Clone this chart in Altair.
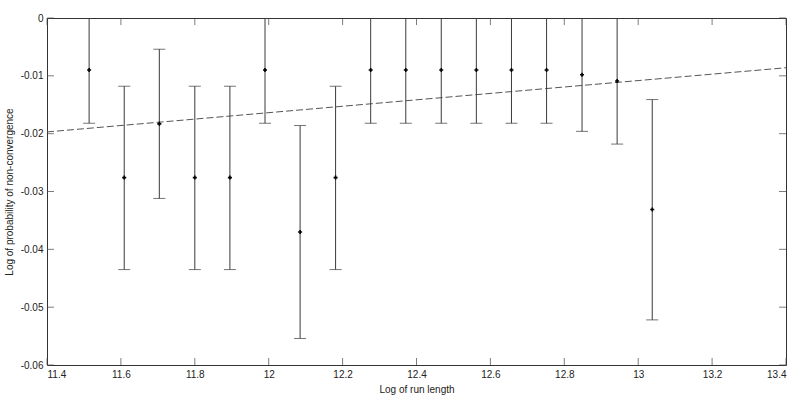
import altair as alt
import pandas as pd

# Log of run length (x positions of measurements)
run_len = [11.514, 11.609, 11.704, 11.800, 11.895, 11.990, 12.085, 12.181, 12.276,
           12.371, 12.467, 12.562, 12.657, 12.752, 12.848, 12.943, 13.038]
# Log of probability of non-convergence (centre estimates)
centre = [-0.0090, -0.0276, -0.0183, -0.0276, -0.0276, -0.0090, -0.0370, -0.0276, -0.0090,
          -0.0090, -0.0090, -0.0090, -0.0090, -0.0090, -0.0098, -0.0109, -0.0331]
lower = [-0.0182, -0.0435, -0.0312, -0.0435, -0.0435, -0.0182, -0.0554, -0.0435, -0.0182,
         -0.0182, -0.0182, -0.0182, -0.0182, -0.0182, -0.0196, -0.0218, -0.0522]
upper = [0.0002, -0.0118, -0.0054, -0.0118, -0.0118, 0.0002, -0.0186, -0.0118, 0.0002,
         0.0002, 0.0002, 0.0002, 0.0002, 0.0002, 0.0000, 0.0000, -0.0141]

# fitted dashed trend line
fit_x = [11.4, 13.4]
fit_y = [-0.0197, -0.0086]

x_ticks = [11.4, 11.6, 11.8, 12.0, 12.2, 12.4, 12.6, 12.8, 13.0, 13.2, 13.4]
y_ticks = [0, -0.01, -0.02, -0.03, -0.04, -0.05, -0.06]

pts = pd.DataFrame({"x": run_len, "y": centre, "lo": lower, "hi": upper})
fit = pd.DataFrame({"x": fit_x, "y": fit_y})
xt = pd.DataFrame({"v": x_ticks})
yt = pd.DataFrame({"v": y_ticks})

FONT = "Liberation Sans"
TICK = "#444444"
BAR = "#3a3a3a"

xs = alt.Scale(domain=[11.4, 13.4], nice=False, zero=False)
ys = alt.Scale(domain=[-0.06, 0], nice=False, zero=False)

common_axis = dict(domain=False, ticks=False, labelPadding=4,
                   labelFont=FONT, labelFontSize=10, labelColor="#222222",
                   titleFont=FONT, titleFontSize=10, titleFontWeight="normal",
                   titleColor="#222222", grid=False)

x_bottom = alt.Axis(values=x_ticks, title="Log of run length",
                    labelExpr="'' + datum.value", titlePadding=5, **common_axis)
y_left = alt.Axis(values=y_ticks, title="Log of probability of non-convergence",
                  labelExpr="datum.value == 0 ? '0' : '-' + format(-datum.value, '.2f')",
                  titlePadding=6, **common_axis)

line = alt.Chart(fit).mark_line(color="#555555", strokeDash=[7, 3], strokeWidth=1, clip=True).encode(
    x=alt.X("x:Q", scale=xs, axis=x_bottom),
    y=alt.Y("y:Q", scale=ys, axis=y_left),
)

bars = alt.Chart(pts).mark_rule(color=BAR, strokeWidth=1, clip=True).encode(
    x=alt.X("x:Q", scale=xs, axis=None),
    y=alt.Y("lo:Q", scale=ys, axis=None),
    y2="hi:Q",
)

cap_lo = alt.Chart(pts).mark_tick(color=BAR, size=12, thickness=1, orient="horizontal", clip=True).encode(
    x=alt.X("x:Q", scale=xs, axis=None),
    y=alt.Y("lo:Q", scale=ys, axis=None),
)
cap_hi = alt.Chart(pts).mark_tick(color=BAR, size=12, thickness=1, orient="horizontal", clip=True).encode(
    x=alt.X("x:Q", scale=xs, axis=None),
    y=alt.Y("hi:Q", scale=ys, axis=None),
)

dots = alt.Chart(pts).mark_point(shape="cross", filled=True, size=16, color="#000000", opacity=1).encode(
    x=alt.X("x:Q", scale=xs, axis=None),
    y=alt.Y("y:Q", scale=ys, axis=None),
)

# inward axis ticks on all four sides
tk = dict(color=TICK, size=7, thickness=1)
t_bottom = alt.Chart(xt).mark_tick(orient="vertical", yOffset=-3.5, **tk).encode(
    x=alt.X("v:Q", scale=xs, axis=None), y=alt.datum(-0.06, scale=ys, axis=None))
t_top = alt.Chart(xt).mark_tick(orient="vertical", yOffset=3.5, **tk).encode(
    x=alt.X("v:Q", scale=xs, axis=None), y=alt.datum(0, scale=ys, axis=None))
t_left = alt.Chart(yt).mark_tick(orient="horizontal", xOffset=3.5, **tk).encode(
    y=alt.Y("v:Q", scale=ys, axis=None), x=alt.datum(11.4, scale=xs, axis=None))
t_right = alt.Chart(yt).mark_tick(orient="horizontal", xOffset=-3.5, **tk).encode(
    y=alt.Y("v:Q", scale=ys, axis=None), x=alt.datum(13.4, scale=xs, axis=None))

chart = alt.layer(line, bars, cap_lo, cap_hi, dots, t_bottom, t_top, t_left, t_right).resolve_axis(
    x="independent", y="independent"
).properties(
    width=739, height=347,
    padding={"left": 47, "top": 18, "right": 14, "bottom": 31},
    autosize=alt.AutoSizeParams(type="none"),
    background="white",
).configure_view(stroke="#333333", strokeWidth=1)

chart.save("out.html", embed_options={"renderer": "svg", "actions": False})
